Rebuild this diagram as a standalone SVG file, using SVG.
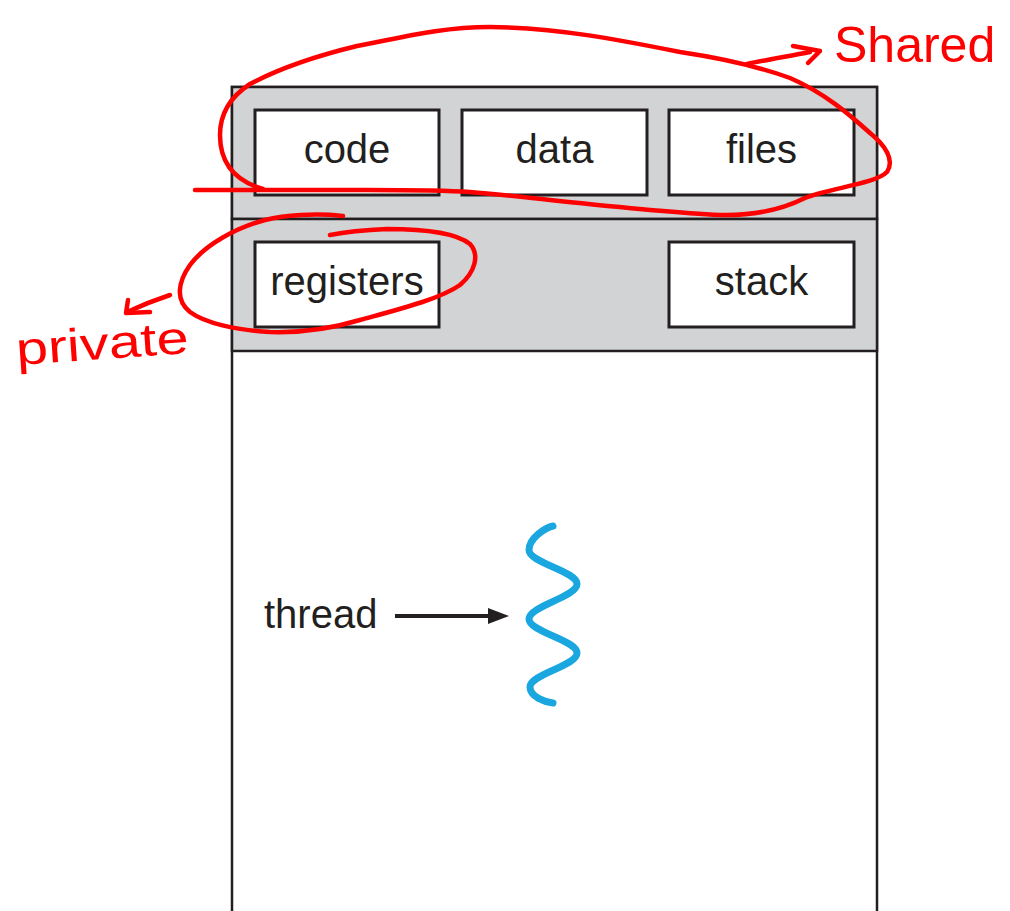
<svg xmlns="http://www.w3.org/2000/svg" width="1010" height="911" viewBox="0 0 1010 911">
  <defs>
    <style>
      .frame { fill: #ffffff; stroke: #231f20; stroke-width: 2.5; }
      .band { fill: #d1d3d4; stroke: #231f20; stroke-width: 2.5; }
      .box { fill: #ffffff; stroke: #231f20; stroke-width: 3; }
      .label { font-family: "Liberation Sans", Arial, Helvetica, sans-serif; font-size: 40px; fill: #231f20; text-anchor: middle; }
      .thread-label { font-family: "Liberation Sans", Arial, Helvetica, sans-serif; font-size: 40px; fill: #231f20; }
      .ink { fill: none; stroke: #ff0000; stroke-width: 4.5; stroke-linecap: round; stroke-linejoin: round; }
      .ink-text { font-family: "Liberation Sans", Arial, sans-serif; fill: #ff0000; }
    </style>
  </defs>

  <!-- process container: shared band, per-thread band, open lower area -->
  <g id="process">
    <rect class="frame" x="232" y="87" width="645" height="840"/>
    <rect class="band" x="232" y="87" width="645" height="132"/>
    <rect class="band" x="232" y="219" width="645" height="132"/>
  </g>

  <g id="code">
    <rect class="box" x="255" y="110" width="184" height="85"/>
    <text class="label" x="347" y="163">code</text>
  </g>
  <g id="data">
    <rect class="box" x="462" y="110" width="185" height="85"/>
    <text class="label" x="554.5" y="163">data</text>
  </g>
  <g id="files">
    <rect class="box" x="669" y="110" width="185" height="85"/>
    <text class="label" x="761.5" y="163">files</text>
  </g>
  <g id="registers">
    <rect class="box" x="255" y="242" width="184" height="85"/>
    <text class="label" x="347" y="295">registers</text>
  </g>
  <g id="stack">
    <rect class="box" x="669" y="242" width="185" height="85"/>
    <text class="label" x="761.5" y="295">stack</text>
  </g>

  <g id="thread">
    <text class="thread-label" x="264" y="628">thread</text>
    <path d="M553,526 C545,528 529,538 529,550 C529,563 577,571 577,584 C577,597 529,606 529,619 C529,632 577,640 577,653 C577,666 530,674 530,687 C530,697 545,702 553,703"
          fill="none" stroke="#1aa7e0" stroke-width="7" stroke-linecap="round"/>
  </g>

  <g id="connectors">
    <line x1="395" y1="616" x2="492" y2="616" stroke="#231f20" stroke-width="4"/>
    <path d="M488,608 L509,616 L488,624 Z" fill="#231f20"/>
  </g>

  <!-- red pen notes -->
  <g id="annotations">
    <path class="ink" d="M195,190 L300,190 C380,190 430,189 470,192 C540,198 640,211 720,215 C760,216 785,208 805,198 C830,188 875,184 887,172 C895,160 885,145 870,133 C850,115 825,93 790,78 C760,67 720,58 680,52 C620,40 560,28 490,27 C440,27 400,38 357,46 C320,55 280,68 250,84 C230,97 220,115 220,135 C220,160 232,180 263,189"/>
    <path class="ink" d="M747,64 C765,60 790,56 810,52"/>
    <path class="ink" d="M793,46 L820,51 L808,63"/>
    <text class="ink-text" x="834" y="62" font-size="50">Shared</text>

    <path class="ink" d="M343,216 C315,213 285,215 265,220 C235,228 205,245 190,265 C178,282 175,300 190,312 C205,323 235,330 270,332 C300,333 330,329 360,320 C400,309 440,299 460,285 C475,272 480,255 470,244 C455,232 420,229 387,229 C365,230 345,232 330,235"/>
    <path class="ink" d="M170,295 C155,300 140,306 127,312"/>
    <path class="ink" d="M128,300 L126,313 L150,312"/>
    <text class="ink-text" x="17" y="365" font-size="46" textLength="173" lengthAdjust="spacingAndGlyphs" transform="rotate(-4 17 365)">private</text>
  </g>
</svg>
